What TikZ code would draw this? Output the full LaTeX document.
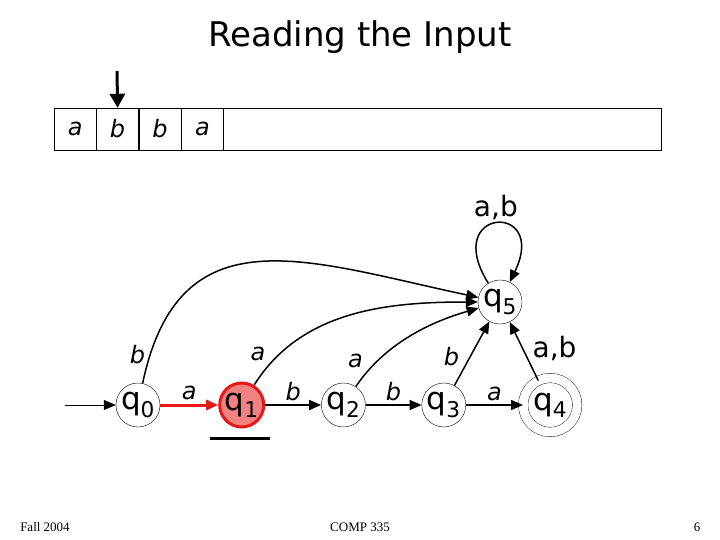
\documentclass[tikz,border=0pt]{standalone}
\usepackage{fontspec}
\setmainfont{DejaVu Sans}
\newfontfamily\footfont{Liberation Serif}
\usetikzlibrary{automata,positioning,arrows.meta}

\definecolor{hotred}{RGB}{230,25,25}
\definecolor{softred}{RGB}{242,130,130}
\newcommand{\qs}[1]{q\textsubscript{#1}}

\tikzset{
  every state/.style={draw, thin, minimum size=44pt, inner sep=0pt, font=\fontsize{31}{31}\selectfont},
  lbl/.style={font=\fontsize{24}{24}\selectfont\itshape},
  biglbl/.style={font=\fontsize{28}{28}\selectfont},
  cell/.style={draw, thin, minimum width=42pt, minimum height=42pt, inner sep=0pt, font=\fontsize{24}{24}\selectfont\itshape},
  >={Triangle[length=12pt,width=10pt]}
}

\begin{document}
\begin{tikzpicture}[x=1pt,y=1pt]
	\useasboundingbox (0,0) rectangle (720,-540);
	% Title and footer
	\node[font=\fontsize{34}{34}\selectfont] (title) at (360,-37) {Reading the Input};
	\node[font=\footfont\fontsize{13}{13}\selectfont] (fall) at (45,-527) {Fall 2004};
	\node[font=\footfont\fontsize{13}{13}\selectfont] (comp) at (360,-527) {COMP 335};
	\node[font=\footfont\fontsize{13}{13}\selectfont] (page) at (697,-527) {6};
	% The input tape
	\node[draw, thin, minimum width=607pt, minimum height=42pt, anchor=west] (tape) at (54,-129) {};
	\node[cell, anchor=west] (c1) at (54,-129) {a};
	\node[cell, right=0pt of c1] (c2) {b};
	\node[cell, right=0pt of c2] (c3) {b};
	\node[cell, right=0pt of c3] (c4) {a};
	\coordinate (head) at (117,-71);
	\draw[-{Triangle[length=14pt,width=15pt]}, line width=3pt] (head) -- (c2.north);
	% Draw the states
	\node[state]             (0) at (138,-405) {\qs{0}};
	\node[state, right=58pt of 0, fill=softred, draw=hotred, line width=3pt] (1) {\qs{1}};
	\node[state, right=56pt of 1] (2) {\qs{2}};
	\node[state, right=56pt of 2] (3) {\qs{3}};
	\node[state, right=57pt of 3, minimum size=54pt, double, double distance=9pt] (4) {\qs{4}};
	\node[state] (5) at (500,-302) {\qs{5}};
	\coordinate (start) at (65,-405);
	\coordinate[below left=10pt and 32pt of 1.south] (ul);
	\coordinate[right=60pt of ul] (ur);
	\draw[line width=3pt] (ul) -- (ur);
	% Connect the states with arrows
	\draw[->, line width=1pt] (start) -- (0);
	\draw[->, line width=1.5pt]
		(1) edge node[lbl, above] {b} (2)
		(2) edge node[lbl, above] {b} (3)
		(3) edge node[lbl, above] {a} (4)
		(0) edge[out=78, in=168, looseness=1.3] node[lbl, pos=0.06, left=1pt] {b} (5)
		(1) edge[out=58, in=180, looseness=0.95] node[lbl, pos=0.1, above left] {a} (5)
		(2) edge[out=56, in=196, looseness=0.9] node[lbl, pos=0.12, above left] {a} (5)
		(3) edge node[lbl, pos=0.25, above left] {b} (5)
		(4) edge node[biglbl, pos=0.55, right=6pt] {a,b} (5)
		(5) edge[out=122, in=64, min distance=90pt] node[biglbl, above] {a,b} (5);
	\draw[->, line width=3pt, hotred] (0) -- node[lbl, above, black] {a} (1);
\end{tikzpicture}
\end{document}
